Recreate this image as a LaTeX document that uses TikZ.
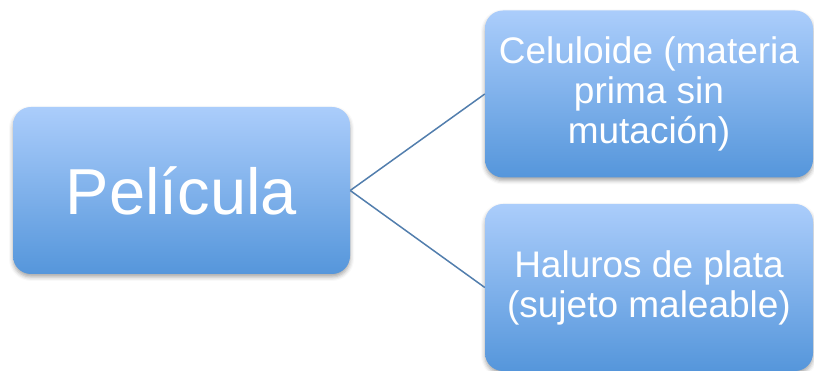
\documentclass[tikz,border=0pt]{standalone}
\usepackage{fontspec}
\setmainfont{Liberation Sans}
\usetikzlibrary{shadows.blur}
\definecolor{boxtop}{HTML}{ABCDFB}
\definecolor{boxbot}{HTML}{5596DB}
\definecolor{linkcol}{HTML}{527EAD}
\begin{document}
\begin{tikzpicture}[x=1pt, y=1pt,
  box/.style={rounded corners=18pt, top color=boxtop, bottom color=boxbot,
    text=white, align=center, inner sep=0pt, minimum width=328pt, minimum height=167pt,
    blur shadow={shadow xshift=0pt, shadow yshift=-3pt, shadow blur radius=4pt, shadow opacity=35}},
  link/.style={draw=linkcol, line width=1.5pt}]

  \useasboundingbox (0,0) rectangle (814,371);

  % Main block
  \node[box, minimum width=337pt, font=\fontsize{65}{78}\selectfont] (pelicula) at (181.5,180.5) {Película};

  % Branches
  \node[box, font=\fontsize{37}{40}\selectfont] (celuloide) at (649,277) {Celuloide (materia\\prima sin\\mutación)};
  \node[box, font=\fontsize{37}{40}\selectfont] (haluros) at (649,83.5) {Haluros de plata\\(sujeto maleable)};

  % Connectors
  \draw[link] (pelicula.east) -- (celuloide.west);
  \draw[link] (pelicula.east) -- (haluros.west);

\end{tikzpicture}
\end{document}
